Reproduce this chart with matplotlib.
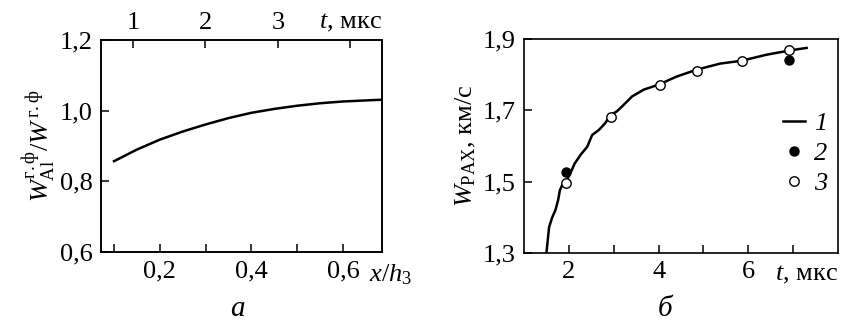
import matplotlib
matplotlib.use("Agg")
import matplotlib.pyplot as plt
from matplotlib.ticker import FuncFormatter

plt.rcParams['font.family'] = ['Liberation Serif', 'DejaVu Serif']
plt.rcParams['mathtext.fontset'] = 'custom'
plt.rcParams['mathtext.rm'] = 'Liberation Serif'
plt.rcParams['mathtext.it'] = 'Liberation Serif:italic'
plt.rcParams['font.size'] = 19

# ---- Panel a data ----
xa = [0.10, 0.15, 0.20, 0.25, 0.30, 0.35, 0.40, 0.45, 0.50, 0.55, 0.60, 0.65, 0.685]
ya = [0.857, 0.890, 0.918, 0.941, 0.961, 0.979, 0.994, 1.005, 1.014, 1.021, 1.026, 1.029, 1.031]
xa_ticks = [0.1, 0.2, 0.3, 0.4, 0.5, 0.6]
xa_labels = ['', '0,2', '', '0,4', '', '0,6']
ya_ticks = [0.6, 0.8, 1.0, 1.2]
ta_ticks = [1, 2, 3, 4]
ta_labels = ['1', '2', '3', '$t$, мкс']

# ---- Panel b data ----
tb_curve = [1.50, 1.56, 1.63, 1.70, 1.76, 1.80, 1.85, 1.93, 2.02, 2.13, 2.26, 2.41, 2.52,
            2.67, 2.81, 2.93, 3.07, 3.22, 3.41, 3.67, 4.00, 4.41, 4.85, 5.37, 5.85,
            6.41, 6.93, 7.30]
wb_curve = [1.300, 1.373, 1.400, 1.420, 1.448, 1.476, 1.490, 1.500, 1.520, 1.551, 1.575,
            1.598, 1.631, 1.645, 1.664, 1.687, 1.697, 1.715, 1.739, 1.758, 1.772, 1.795,
            1.814, 1.831, 1.839, 1.856, 1.868, 1.875]
t_exp2 = [1.93, 6.91]
w_exp2 = [1.526, 1.840]
t_exp3 = [1.94, 2.93, 4.04, 4.85, 5.85, 6.91]
w_exp3 = [1.495, 1.681, 1.772, 1.811, 1.837, 1.868]
tb_ticks = [2, 3, 4, 5, 6, 7]
tb_labels = ['2', '', '4', '', '6', '']
wb_ticks = [1.3, 1.5, 1.7, 1.9]

comma = FuncFormatter(lambda v, p: f"{v:.1f}".replace('.', ','))

W, H = 841, 321
fig = plt.figure(figsize=(W / 100, H / 100), dpi=100)

def box(x0, y0, x1, y1):
    return [x0 / W, 1 - y1 / H, (x1 - x0) / W, (y1 - y0) / H]

def ftext(x, y, s, **kw):
    fig.text(x / W, 1 - y / H, s, **kw)

# ---------- Panel a ----------
ax1 = fig.add_axes(box(101, 40, 382, 252))
ax1.plot(xa, ya, color='black', lw=1.8)
ax1.set_xlim(0.0715, 0.685)
ax1.set_ylim(0.6, 1.2)
ax1.set_xticks(xa_ticks)
ax1.set_xticklabels(xa_labels)
ax1.set_yticks(ya_ticks)
ax1.yaxis.set_major_formatter(comma)
ax1.tick_params(direction='in', length=6, width=1.1, pad=6)
for s in ax1.spines.values():
    s.set_linewidth(1.2)
ax1.set_ylabel(r'$W_{\mathrm{Al}}^{\mathrm{г.ф}}/W^{\mathrm{\,г.ф}}$', fontsize=19, labelpad=1)

ax1t = ax1.twiny()
ax1t.set_xlim(0.556, 4.44)
ax1t.set_xticks(ta_ticks)
ax1t.set_xticklabels(ta_labels)
ax1t.tick_params(direction='in', length=6, width=1.1, pad=4)
for s in ax1t.spines.values():
    s.set_linewidth(1.2)

ftext(369, 275, '$x/h_3$', ha='left', va='center', fontsize=19)
ftext(238, 309, '$a$', ha='center', va='center', fontsize=21)

# ---------- Panel b ----------
ax2 = fig.add_axes(box(524, 39, 838, 253))
ax2.plot(tb_curve, wb_curve, color='black', lw=1.8, label='1')
ax2.plot(t_exp2, w_exp2, 'o', color='black', ms=6.5, label='2')
ax2.plot(t_exp3, w_exp3, 'o', mfc='white', mec='black', mew=1.0, ms=6.8, label='3')
ax2.set_xlim(1.0, 8.0)
ax2.set_ylim(1.3, 1.9)
ax2.set_xticks(tb_ticks)
ax2.set_xticklabels(tb_labels)
ax2.set_yticks(wb_ticks)
ax2.yaxis.set_major_formatter(comma)
ax2.tick_params(direction='in', length=6, width=1.1, pad=6)
for s in ax2.spines.values():
    s.set_linewidth(1.2)
ax2.set_ylabel(r'$W_{\mathrm{РАХ}}$, км/с', fontsize=19, labelpad=3)
ax2.legend(loc='upper right', bbox_to_anchor=(1.0, 0.71), frameon=False,
           handlelength=0.85, handletextpad=0.35, labelspacing=0.25,
           prop={'size': 19, 'style': 'italic'}, borderaxespad=0.0)

ftext(775, 275, '$t$, мкс', ha='left', va='center', fontsize=19)
ftext(665, 309, 'б', ha='center', va='center', fontsize=21, style='italic')

fig.savefig('out.png', dpi=100)
